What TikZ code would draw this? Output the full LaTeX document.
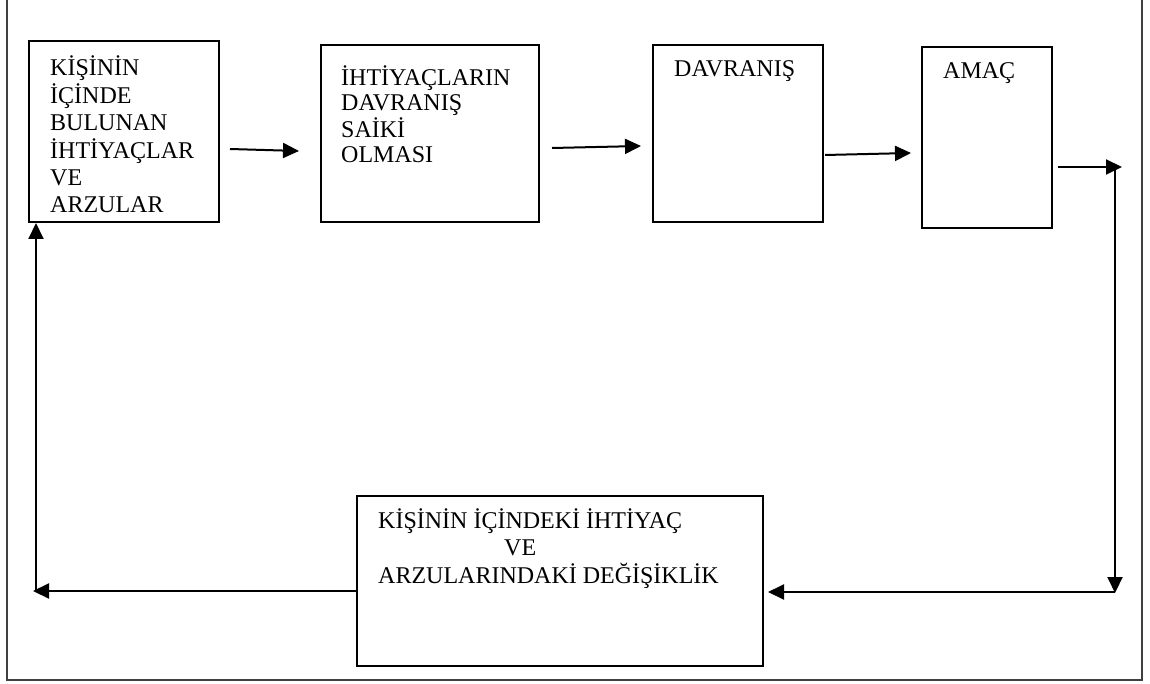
\documentclass[tikz,border=0pt]{standalone}
\usepackage{fontspec}
\setmainfont{Liberation Serif}
\usetikzlibrary{arrows.meta}
\tikzset{
  box/.style={draw, line width=2pt, inner sep=0pt},
  txt/.style={anchor=base west, inner sep=0pt, font=\fontsize{24}{27}\selectfont},
  arr/.style={line width=2pt, -{Triangle[length=16pt,width=15pt]}},
}
\begin{document}
\begin{tikzpicture}[x=1pt,y=-1pt]
\useasboundingbox (0,0) rectangle (1150,684);
% frame
\draw[line width=1.2pt, black!75] (7,0) -- (7,680) -- (1142,680) -- (1142,0);
% boxes
\node[box, minimum width=190pt, minimum height=181pt] (b1) at (124,131.5) {};
\node[box, minimum width=218pt, minimum height=177pt] (b2) at (430,133.5) {};
\node[box, minimum width=170pt, minimum height=177pt] (b3) at (738,133.5) {};
\node[box, minimum width=130pt, minimum height=181pt] (b4) at (987,137.5) {};
\node[box, minimum width=406pt, minimum height=170pt] (b5) at (560,581) {};
% texts
\node[txt] (t1) at (50,76) {\begin{tabular}[t]{@{}l@{}}KİŞİNİN\\İÇİNDE\\BULUNAN\\İHTİYAÇLAR\\VE\\ARZULAR\end{tabular}};
\node[txt, font=\fontsize{24}{24.7}\selectfont] (t2) at (341,86) {\begin{tabular}[t]{@{}l@{}}İHTİYAÇLARIN\\DAVRANIŞ\\SAİKİ\\OLMASI\end{tabular}};
\node[txt] (t3) at (674,77) {DAVRANIŞ};
\node[txt] (t4) at (943,79) {AMAÇ};
\node[txt] (t5) at (378,528) {\begin{tabular}[t]{@{}l@{}}KİŞİNİN İÇİNDEKİ İHTİYAÇ\\\hspace*{126pt}VE\\ARZULARINDAKİ DEĞİŞİKLİK\end{tabular}};
% coordinates
\coordinate (tr) at (1122,167);
\coordinate (vt) at (1115,166);
\coordinate (vb) at (1115,593);
\coordinate (lb) at (33,591);
\coordinate (vl) at (36,591);
% connectors
\draw[arr] ([xshift=10pt,yshift=-17.5pt]b1.east) -- ([xshift=-21pt,yshift=-17.5pt]b2.west);
\draw[arr] ([xshift=12pt,yshift=-14.5pt]b2.east) -- ([xshift=-11pt,yshift=-12.5pt]b3.west);
\draw[arr] ([xshift=1pt,yshift=-21.5pt]b3.east) -- ([xshift=-10pt,yshift=-15.5pt]b4.west);
\draw[arr] ([xshift=5pt,yshift=-29.5pt]b4.east) -- (tr);
\draw[arr] (vt) -- (vb);
\draw[arr] (vb |- 0,592) -- ([xshift=4pt,yshift=-11pt]b5.east);
\draw[arr] ([yshift=-10pt]b5.west) -- (lb);
\draw[arr] (vl) -- (vl |- b1.south);
\end{tikzpicture}
\end{document}
